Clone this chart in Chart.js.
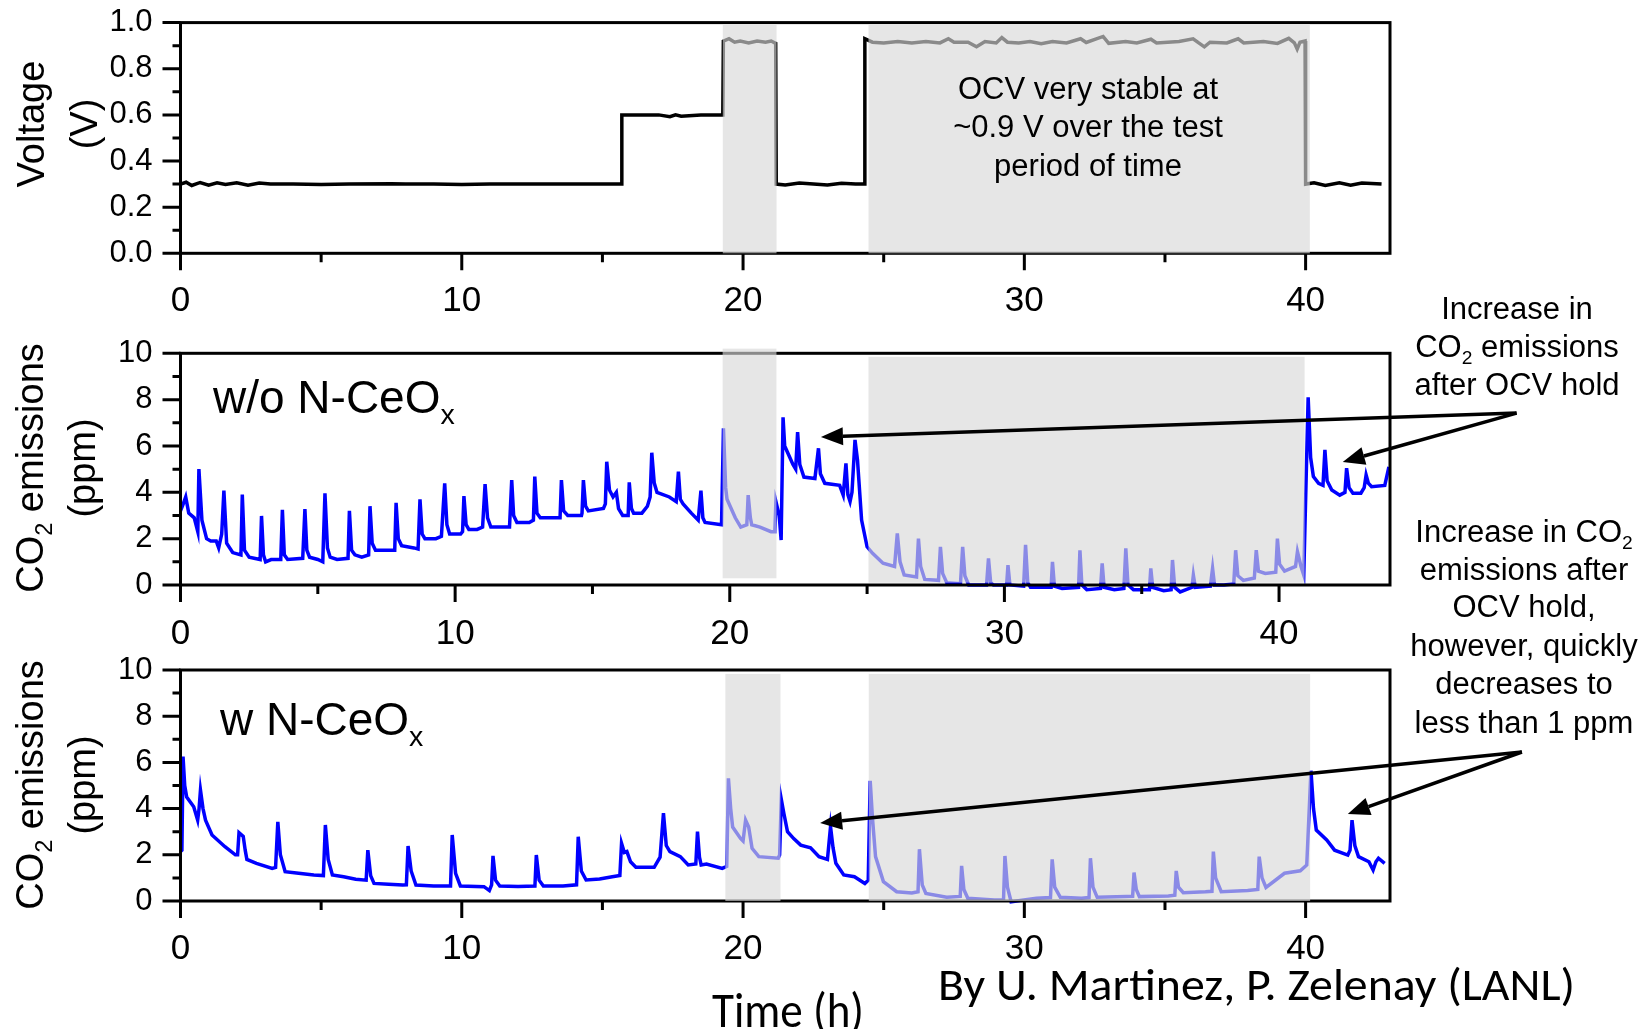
<!DOCTYPE html>
<html>
<head>
<meta charset="utf-8">
<script src="https://cdn.jsdelivr.net/npm/chart.js@4.4.1/dist/chart.umd.min.js"></script>
<style>
  body { margin: 0; background: #fff; }
  #stage { position: relative; width: 1648px; height: 1029px; }
  #stage canvas { position: absolute; left: 0; top: 0; }
</style>
</head>
<body>
<div id="stage">
  <canvas id="voltage-chart" width="1648" height="1029"></canvas>
  <canvas id="plain-chart" width="1648" height="1029"></canvas>
  <canvas id="ceox-chart" width="1648" height="1029"></canvas>
</div>
<script>
// --- Data: [time (h), value] ---
const voltage = [
  [0, 0.30], [0.2, 0.308], [0.4, 0.294], [0.7, 0.307], [1.0, 0.295], [1.3, 0.306], [1.6, 0.298], [2.0, 0.306],
  [2.4, 0.295], [2.8, 0.305], [3.2, 0.30], [4.0, 0.30], [5.0, 0.298], [6.0, 0.30], [7.5, 0.302], [8.0, 0.30],
  [9.0, 0.30], [10.0, 0.298], [11.0, 0.30], [12.0, 0.30], [13.0, 0.30], [14.0, 0.30], [15.0, 0.30],
  [15.67, 0.30], [15.69, 0.60], [17.0, 0.60], [17.4, 0.592], [17.6, 0.60], [17.8, 0.594], [18.5, 0.60], [19.28, 0.60],
  [19.3, 0.92], [19.5, 0.93], [19.7, 0.915], [19.9, 0.92], [20.2, 0.912], [20.5, 0.92], [20.8, 0.915],
  [21.0, 0.92], [21.16, 0.91], [21.18, 0.30], [21.5, 0.296], [22.0, 0.305], [22.5, 0.30], [23.0, 0.296],
  [23.5, 0.304], [24.0, 0.30], [24.31, 0.30], [24.33, 0.93], [24.6, 0.915], [25.0, 0.912], [25.5, 0.918],
  [26.0, 0.912], [26.5, 0.918], [27.0, 0.912], [27.3, 0.93], [27.5, 0.915], [28.0, 0.915], [28.3, 0.895],
  [28.6, 0.918], [29.0, 0.912], [29.2, 0.935], [29.4, 0.915], [29.8, 0.912], [30.2, 0.918], [30.6, 0.908],
  [31.0, 0.918], [31.5, 0.912], [32.0, 0.93], [32.2, 0.914], [32.8, 0.94], [33.0, 0.91], [33.6, 0.918],
  [34.0, 0.912], [34.5, 0.928], [34.7, 0.912], [35.5, 0.918], [36.0, 0.93], [36.2, 0.912], [36.4, 0.895],
  [36.6, 0.915], [37.2, 0.912], [37.6, 0.93], [37.8, 0.912], [38.5, 0.918], [39.0, 0.91], [39.4, 0.932],
  [39.6, 0.912], [39.7, 0.885], [39.8, 0.915], [39.98, 0.92], [40.0, 0.30], [40.3, 0.306], [40.7, 0.294],
  [41.2, 0.306], [41.6, 0.295], [42.0, 0.305], [42.7, 0.30]
];

// CO2 emissions without N-CeOx (ppm)
const co2Plain = [
  [0, 3.2], [0.1, 3.5], [0.19, 3.8], [0.3, 3.1], [0.5, 2.9], [0.63, 2.3], [0.67, 5.0], [0.78, 2.8],
  [0.95, 2.0], [1.1, 1.9], [1.3, 1.9], [1.39, 1.6], [1.5, 2.2], [1.58, 4.07], [1.68, 1.8], [1.9, 1.4],
  [2.2, 1.3], [2.25, 3.9], [2.33, 1.5], [2.5, 1.2], [2.9, 1.1], [2.95, 2.98], [3.02, 1.3], [3.1, 1.0],
  [3.3, 1.1], [3.65, 1.1], [3.71, 3.24], [3.78, 1.3], [3.9, 1.1], [4.45, 1.15], [4.53, 3.28], [4.6, 1.5],
  [4.7, 1.2], [5.0, 1.1], [5.18, 1.0], [5.26, 3.96], [5.35, 1.6], [5.45, 1.2], [5.7, 1.1], [6.1, 1.15],
  [6.15, 3.2], [6.23, 1.5], [6.35, 1.3], [6.6, 1.2], [6.85, 1.3], [6.9, 3.4], [6.98, 1.8], [7.1, 1.5],
  [7.5, 1.5], [7.8, 1.5], [7.85, 3.55], [7.93, 2.0], [8.05, 1.7], [8.5, 1.6], [8.65, 1.55], [8.72, 3.7],
  [8.8, 2.2], [8.9, 2.0], [9.3, 2.0], [9.5, 2.1], [9.62, 4.39], [9.7, 2.6], [9.8, 2.2], [10.2, 2.2],
  [10.27, 2.3], [10.32, 3.84], [10.4, 2.6], [10.5, 2.4], [10.8, 2.4], [11.0, 2.5], [11.09, 4.35],
  [11.18, 2.9], [11.3, 2.5], [11.8, 2.5], [11.98, 2.5], [12.06, 4.53], [12.13, 3.0], [12.25, 2.7],
  [12.7, 2.7], [12.85, 2.8], [12.9, 4.68], [12.98, 3.1], [13.1, 2.9], [13.7, 2.9], [13.82, 2.9],
  [13.87, 4.53], [13.95, 3.2], [14.1, 3.0], [14.6, 3.0], [14.62, 3.1], [14.67, 4.53], [14.75, 3.4],
  [14.85, 3.2], [15.4, 3.3], [15.47, 3.5], [15.52, 5.32], [15.62, 4.1], [15.75, 3.8], [15.87, 4.0],
  [15.95, 3.3], [16.1, 3.0], [16.3, 3.0], [16.34, 4.43], [16.42, 3.3], [16.5, 3.1], [16.8, 3.1],
  [17.0, 3.4], [17.1, 3.8], [17.16, 5.71], [17.25, 4.4], [17.35, 4.0], [17.8, 3.8], [18.05, 3.6],
  [18.13, 4.89], [18.2, 3.7], [18.3, 3.5], [18.6, 3.1], [18.85, 2.8], [18.95, 4.07], [19.02, 2.9],
  [19.1, 2.7], [19.7, 2.6], [19.77, 6.76], [19.85, 4.2], [19.9, 3.7], [20.2, 2.9], [20.4, 2.5],
  [20.62, 2.6], [20.67, 3.88], [20.75, 2.9], [20.8, 2.6], [21.1, 2.5], [21.5, 2.3], [21.64, 2.3],
  [21.68, 3.6], [21.8, 3.0], [21.87, 1.94], [21.94, 7.24], [22.0, 6.0], [22.3, 5.2], [22.4, 5.0],
  [22.47, 6.6], [22.55, 5.2], [22.7, 4.66], [23.1, 4.6], [23.23, 5.9], [23.3, 4.8], [23.46, 4.39],
  [24.0, 4.3], [24.13, 3.88], [24.23, 5.25], [24.3, 3.9], [24.38, 3.6], [24.45, 4.0], [24.56, 6.26],
  [24.65, 5.4], [24.8, 2.8], [25.0, 1.65], [25.2, 1.37], [25.58, 0.94], [26.0, 0.8], [26.1, 2.23],
  [26.2, 1.0], [26.35, 0.43], [26.8, 0.35], [26.87, 2.0], [26.95, 0.8], [27.1, 0.24], [27.6, 0.2],
  [27.67, 1.65], [27.75, 0.5], [27.9, 0.1], [28.4, 0.05], [28.48, 1.65], [28.56, 0.4], [28.7, 0.0],
  [29.35, 0.0], [29.42, 1.15], [29.5, 0.1], [29.6, 0.0], [30.08, 0.0], [30.13, 0.86], [30.2, 0.0],
  [30.7, -0.05], [30.77, 1.73], [30.85, 0.1], [30.95, -0.1], [31.7, -0.1], [31.75, 1.0], [31.82, -0.05],
  [32.1, -0.15], [32.7, -0.1], [32.75, 1.5], [32.82, 0.0], [33.0, -0.2], [33.5, -0.15], [33.56, 0.93],
  [33.63, -0.1], [34.0, -0.2], [34.35, -0.15], [34.42, 1.58], [34.5, 0.0], [34.7, -0.2], [35.28, -0.2],
  [35.33, 0.72], [35.4, -0.1], [35.8, -0.25], [36.07, -0.2], [36.12, 1.08], [36.2, -0.1], [36.4, -0.3],
  [36.83, -0.1], [36.88, 0.43], [36.95, -0.1], [37.5, -0.05], [37.58, 0.72], [37.65, 0.0], [38.0, 0.0],
  [38.35, 0.05], [38.42, 1.5], [38.5, 0.4], [38.7, 0.2], [39.1, 0.3], [39.17, 1.5], [39.25, 0.6],
  [39.5, 0.5], [39.88, 0.55], [39.94, 2.0], [40.02, 0.9], [40.2, 0.6], [40.6, 0.8], [40.67, 1.44],
  [40.8, 0.8], [40.9, 0.43], [41.06, 8.1], [41.15, 5.5], [41.25, 4.68], [41.44, 4.39], [41.6, 4.3],
  [41.67, 5.83], [41.75, 4.5], [41.92, 4.1], [42.21, 3.88], [42.4, 4.0], [42.46, 5.04], [42.55, 4.2],
  [42.69, 3.96], [42.98, 3.96], [43.1, 4.2], [43.17, 4.75], [43.25, 4.4], [43.37, 4.24], [43.85, 4.3],
  [44.0, 5.1]
];

// CO2 emissions with N-CeOx (ppm)
const co2Ceox = [
  [0, 2.14], [0.05, 2.2], [0.09, 6.25], [0.15, 5.0], [0.22, 4.5], [0.47, 4.08], [0.61, 3.5], [0.66, 4.0],
  [0.71, 4.8], [0.8, 4.0], [0.89, 3.5], [1.12, 2.86], [1.58, 2.35], [1.95, 2.0], [2.03, 2.0], [2.08, 2.96],
  [2.23, 2.8], [2.3, 2.2], [2.36, 1.8], [2.7, 1.63], [3.26, 1.41], [3.38, 1.45], [3.46, 3.43], [3.55, 2.0],
  [3.72, 1.27], [4.2, 1.2], [4.74, 1.13], [5.08, 1.1], [5.15, 3.29], [5.25, 1.8], [5.4, 1.13], [5.8, 1.05],
  [6.23, 0.94], [6.6, 0.9], [6.66, 2.2], [6.76, 1.1], [6.88, 0.76], [7.4, 0.72], [7.9, 0.69], [8.03, 0.7],
  [8.09, 2.38], [8.2, 1.3], [8.37, 0.69], [9.0, 0.65], [9.6, 0.65], [9.66, 2.86], [9.78, 1.2], [9.95, 0.65],
  [10.79, 0.62], [10.98, 0.45], [11.06, 0.7], [11.11, 1.95], [11.2, 0.9], [11.35, 0.65], [12.0, 0.63],
  [12.6, 0.65], [12.65, 1.99], [12.75, 0.9], [12.9, 0.65], [13.6, 0.65], [14.08, 0.7], [14.14, 2.78],
  [14.25, 1.3], [14.42, 0.91], [14.9, 0.95], [15.35, 1.05], [15.62, 1.1], [15.68, 2.5], [15.78, 2.1],
  [15.87, 2.14], [16.0, 1.7], [16.19, 1.46], [16.84, 1.46], [17.05, 1.9], [17.17, 3.8], [17.27, 2.4],
  [17.4, 2.14], [17.77, 1.92], [18.05, 1.56], [18.32, 1.6], [18.38, 3.0], [18.45, 1.9], [18.51, 1.56],
  [18.7, 1.6], [19.26, 1.41], [19.42, 1.5], [19.48, 5.31], [19.56, 4.0], [19.63, 3.2], [19.91, 2.71],
  [20.0, 2.6], [20.09, 3.5], [20.2, 3.2], [20.32, 2.28], [20.56, 1.92], [21.25, 1.85], [21.3, 2.0],
  [21.36, 4.4], [21.45, 3.8], [21.58, 3.0], [21.8, 2.7], [22.05, 2.42], [22.4, 2.3], [22.7, 1.92],
  [23.0, 1.8], [23.11, 3.22], [23.2, 2.3], [23.3, 1.63], [23.58, 1.13], [23.96, 1.05], [24.33, 0.76],
  [24.45, 0.9], [24.52, 5.2], [24.6, 3.6], [24.71, 1.92], [24.99, 0.84], [25.46, 0.4], [26.0, 0.35],
  [26.22, 0.4], [26.27, 2.24], [26.37, 0.7], [26.5, 0.33], [27.24, 0.16], [27.72, 0.2], [27.77, 1.52],
  [27.85, 0.5], [27.99, 0.12], [28.93, 0.04], [29.26, 0.05], [29.31, 1.95], [29.4, 0.6], [29.53, -0.03],
  [30.43, 0.12], [30.93, 0.15], [30.99, 1.8], [31.08, 0.6], [31.28, 0.16], [32.03, 0.12], [32.3, 0.15],
  [32.35, 1.85], [32.44, 0.6], [32.59, 0.16], [33.62, 0.19], [33.85, 0.2], [33.9, 1.23], [33.98, 0.5],
  [34.09, 0.19], [35.12, 0.22], [35.35, 0.25], [35.4, 1.3], [35.48, 0.6], [35.65, 0.36], [36.44, 0.4],
  [36.67, 0.42], [36.72, 2.14], [36.8, 1.0], [37.0, 0.4], [37.94, 0.45], [38.3, 0.5], [38.35, 1.92],
  [38.45, 1.0], [38.59, 0.59], [39.25, 1.2], [39.81, 1.31], [40.04, 1.56], [40.19, 5.64], [40.28, 4.0],
  [40.38, 3.07], [40.75, 2.64], [41.03, 2.2], [41.5, 1.99], [41.58, 2.2], [41.65, 3.5], [41.75, 2.4],
  [41.88, 1.92], [42.25, 1.7], [42.4, 1.34], [42.5, 1.7], [42.59, 1.85], [42.81, 1.63]
];

// OCV hold periods per panel: [t start, t end, y bottom, y top]
const voltageHolds = [[19.28, 21.19, 0, 0.99], [24.46, 40.15, 0, 0.99]];
const plainHolds = [[19.74, 21.7, 0.29, 10.2], [25.05, 40.93, 0.1, 9.85]];
const ceoxHolds = [[19.37, 21.33, 0, 9.83], [24.47, 40.16, 0, 9.83]];

const ARIAL = "'Liberation Sans', Arial, sans-serif";
const CALIBRI = "Carlito, Lato, sans-serif";
const HOLD_FILL = 'rgba(216, 216, 216, 0.64)';

// split "CO_2" style strings into normal / subscript runs
function richParts(str) {
  return str.split(/(_.)/).filter(s => s).map(s =>
    s[0] === '_' ? { t: s.slice(1), sub: true } : { t: s, sub: false });
}

function drawRich(ctx, str, x, y, size, family, align) {
  const parts = richParts(str);
  const subSize = size * 0.62;
  let total = 0;
  parts.forEach(p => {
    ctx.font = `${p.sub ? subSize : size}px ${family}`;
    p.w = ctx.measureText(p.t).width;
    total += p.w;
  });
  let cx = align === 'center' ? x - total / 2 : x;
  ctx.textAlign = 'left';
  ctx.textBaseline = 'alphabetic';
  parts.forEach(p => {
    ctx.font = `${p.sub ? subSize : size}px ${family}`;
    ctx.fillText(p.t, cx, p.sub ? y + size * 0.24 : y);
    cx += p.w;
  });
}

// squeeze text into a given width (Calibri-like captions)
function drawFitted(ctx, str, x, y, size, family, width, align) {
  ctx.font = `${size}px ${family}`;
  const sx = width / ctx.measureText(str).width;
  ctx.save();
  ctx.translate(x, y);
  ctx.scale(sx, 1);
  ctx.textAlign = align;
  ctx.textBaseline = 'alphabetic';
  ctx.fillText(str, 0, 0);
  ctx.restore();
}

function drawArrow(ctx, x0, y0, x1, y1) {
  const ang = Math.atan2(y1 - y0, x1 - x0);
  const len = 22, half = 9;
  const bx = x1 - len * Math.cos(ang), by = y1 - len * Math.sin(ang);
  ctx.beginPath();
  ctx.moveTo(x0, y0);
  ctx.lineTo(bx, by);
  ctx.stroke();
  ctx.beginPath();
  ctx.moveTo(x1, y1);
  ctx.lineTo(bx + half * Math.sin(ang), by - half * Math.cos(ang));
  ctx.lineTo(bx - half * Math.sin(ang), by + half * Math.cos(ang));
  ctx.closePath();
  ctx.fill();
}

// frame, tick marks, hold shading and annotations drawn on top of the trace
function decorPlugin(panel) {
  return {
    id: 'decor',
    afterDatasetsDraw(chart) {
      const { ctx, chartArea: a, scales: { x, y } } = chart;
      ctx.save();
      ctx.strokeStyle = '#000';
      ctx.fillStyle = '#000';
      ctx.lineWidth = 3;
      ctx.strokeRect(a.left, a.top, a.right - a.left, a.bottom - a.top);

      ctx.beginPath();
      const ny = Math.round(panel.yMax / panel.yMinor);
      for (let i = 0; i <= ny; i++) {
        const py = y.getPixelForValue(i * panel.yMinor);
        ctx.moveTo(a.left - (i % 2 === 0 ? 18 : 8), py);
        ctx.lineTo(a.left, py);
      }
      for (let i = 0; i * 5 <= panel.xMax; i++) {
        const px = x.getPixelForValue(i * 5);
        ctx.moveTo(px, a.bottom);
        ctx.lineTo(px, a.bottom + (i % 2 === 0 ? 17 : 9));
      }
      ctx.stroke();

      ctx.fillStyle = HOLD_FILL;
      panel.holds.forEach(([t0, t1, v0, v1]) => {
        const x0 = x.getPixelForValue(t0), x1 = x.getPixelForValue(t1);
        const y0 = y.getPixelForValue(v0), y1 = y.getPixelForValue(v1);
        ctx.fillRect(x0, y1, x1 - x0, y0 - y1);
      });

      ctx.fillStyle = '#000';
      panel.yTitle.forEach(([str, bx]) => {
        ctx.save();
        ctx.translate(bx, panel.yTitleMid);
        ctx.rotate(-Math.PI / 2);
        drawRich(ctx, str, 0, 0, 38, ARIAL, 'center');
        ctx.restore();
      });

      (panel.notes || []).forEach(n => drawRich(ctx, n.text, n.x, n.y, n.size, ARIAL, n.align));
      (panel.captions || []).forEach(c => drawFitted(ctx, c.text, c.x, c.y, c.size, CALIBRI, c.width, c.align));

      if (panel.arrow) {
        ctx.lineWidth = 3.5;
        const [fx, fy] = panel.arrow.from;
        panel.arrow.tips.forEach(([tx, ty]) => drawArrow(ctx,
          x.getPixelForValue(fx), y.getPixelForValue(fy),
          x.getPixelForValue(tx), y.getPixelForValue(ty)));
      }
      ctx.restore();
    }
  };
}

function makePanel(panel) {
  const axisFont = { family: ARIAL };
  return new Chart(document.getElementById(panel.canvas), {
    type: 'line',
    data: {
      datasets: [{
        data: panel.series.map(([t, v]) => ({ x: t, y: v })),
        borderColor: panel.color,
        borderWidth: panel.lineWidth,
        pointRadius: 0,
        tension: 0,
        clip: false
      }]
    },
    options: {
      responsive: false,
      animation: false,
      events: [],
      layout: { padding: { left: 110.5, right: 258, top: panel.top, bottom: 1029 - panel.bottom - 60 } },
      plugins: { legend: { display: false }, tooltip: { enabled: false } },
      scales: {
        x: {
          type: 'linear', min: 0, max: panel.xMax,
          afterFit(s) { s.height = 60; },
          // tick marks are drawn by the decor plugin; tickLength only spaces the labels
          grid: { display: false, drawTicks: true, tickLength: panel.xPad - 4 },
          border: { display: false },
          ticks: { stepSize: 10, includeBounds: false, padding: 4, color: '#000',
                   font: { ...axisFont, size: 35 } }
        },
        y: {
          type: 'linear', min: 0, max: panel.yMax,
          afterFit(s) { s.width = 70; },
          grid: { display: false, drawTicks: true, tickLength: 24 },
          border: { display: false },
          ticks: { stepSize: panel.yMinor * 2, includeBounds: false, padding: 4, color: '#000',
                   font: { ...axisFont, size: 31 },
                   callback: v => v.toFixed(panel.decimals) }
        }
      }
    },
    plugins: [decorPlugin(panel)]
  });
}

makePanel({
  canvas: 'voltage-chart', series: voltage, color: '#000', lineWidth: 3.5,
  top: 21.5, bottom: 253.3, xMax: 43.0, yMax: 1, yMinor: 0.1, decimals: 1, xPad: 27,
  holds: voltageHolds,
  yTitle: [['Voltage', 44], ['(V)', 97]], yTitleMid: 124,
  notes: [
    { text: 'OCV very stable at', x: 1088, y: 99, size: 31, align: 'center' },
    { text: '~0.9 V over the test', x: 1088, y: 137, size: 31, align: 'center' },
    { text: 'period of time', x: 1088, y: 176, size: 31, align: 'center' }
  ]
});

makePanel({
  canvas: 'plain-chart', series: co2Plain, color: '#0000ff', lineWidth: 3.5,
  top: 353.3, bottom: 585, xMax: 44.04, yMax: 10, yMinor: 1, decimals: 0, xPad: 28,
  holds: plainHolds,
  yTitle: [['CO_2 emissions', 43], ['(ppm)', 95]], yTitleMid: 468,
  notes: [
    { text: 'w/o N-CeO_x', x: 213, y: 413, size: 46, align: 'left' },
    { text: 'Increase in', x: 1517, y: 319, size: 31, align: 'center' },
    { text: 'CO_2 emissions', x: 1517, y: 357, size: 31, align: 'center' },
    { text: 'after OCV hold', x: 1517, y: 395, size: 31, align: 'center' }
  ],
  arrow: { from: [48.65, 7.42], tips: [[23.32, 6.39], [42.32, 5.31]] }
});

makePanel({
  canvas: 'ceox-chart', series: co2Ceox, color: '#0000ff', lineWidth: 3.5,
  top: 670, bottom: 901, xMax: 43.0, yMax: 10, yMinor: 1, decimals: 0, xPad: 27,
  holds: ceoxHolds,
  yTitle: [['CO_2 emissions', 43], ['(ppm)', 95]], yTitleMid: 785,
  notes: [
    { text: 'w N-CeO_x', x: 220, y: 735, size: 46, align: 'left' },
    { text: 'Increase in CO_2', x: 1524, y: 542, size: 31, align: 'center' },
    { text: 'emissions after', x: 1524, y: 580, size: 31, align: 'center' },
    { text: 'OCV hold,', x: 1524, y: 617, size: 31, align: 'center' },
    { text: 'however, quickly', x: 1524, y: 656, size: 31, align: 'center' },
    { text: 'decreases to', x: 1524, y: 694, size: 31, align: 'center' },
    { text: 'less than 1 ppm', x: 1524, y: 733, size: 31, align: 'center' }
  ],
  captions: [
    { text: 'Time (h)', x: 788, y: 1027, size: 50, width: 152, align: 'center' },
    { text: 'By U. Martinez, P. Zelenay (LANL)', x: 938, y: 1000, size: 46, width: 637, align: 'left' }
  ],
  arrow: { from: [47.69, 6.45], tips: [[22.74, 3.38], [41.5, 3.77]] }
});
</script>
</body>
</html>
